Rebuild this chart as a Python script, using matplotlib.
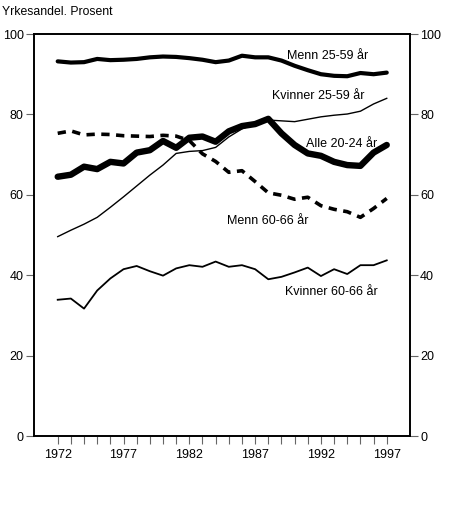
import matplotlib
matplotlib.use("Agg")
import matplotlib.pyplot as plt

plt.rcParams['font.family'] = ['Liberation Sans', 'DejaVu Sans']

years = list(range(1972, 1998))

menn_25_59 = [93.2, 92.9, 93.0, 93.8, 93.5, 93.6, 93.8, 94.2, 94.4, 94.3, 94.0, 93.6, 93.0, 93.4,
              94.6, 94.2, 94.2, 93.4, 92.1, 91.0, 90.0, 89.6, 89.5, 90.3, 90.0, 90.4]
kvinner_25_59 = [49.6, 51.2, 52.7, 54.4, 56.9, 59.5, 62.2, 64.9, 67.4, 70.3, 70.8, 71.0, 71.8, 74.4,
                 76.4, 77.6, 78.6, 78.4, 78.2, 78.8, 79.4, 79.8, 80.1, 80.8, 82.6, 84.0]
alle_20_24 = [64.5, 65.0, 67.0, 66.4, 68.2, 67.8, 70.5, 71.1, 73.4, 71.7, 74.2, 74.5, 73.2, 75.8,
              77.1, 77.6, 78.9, 75.3, 72.4, 70.3, 69.7, 68.2, 67.4, 67.2, 70.5, 72.4]
menn_60_66 = [75.3, 75.9, 74.9, 75.1, 75.0, 74.7, 74.6, 74.5, 74.8, 74.6, 73.5, 70.2, 68.3, 65.6,
              66.0, 63.3, 60.5, 59.9, 58.9, 59.4, 57.3, 56.4, 55.8, 54.4, 56.6, 59.1]
kvinner_60_66 = [33.9, 34.2, 31.7, 36.2, 39.2, 41.5, 42.3, 41.0, 39.9, 41.7, 42.5, 42.1, 43.4, 42.1,
                 42.5, 41.5, 39.0, 39.6, 40.7, 41.9, 39.8, 41.5, 40.3, 42.5, 42.5, 43.7]

labels = ["Menn 25-59 år", "Kvinner 25-59 år", "Alle 20-24 år", "Menn 60-66 år", "Kvinner 60-66 år"]
label_pos = [(1989.4, 94.6), (1988.3, 84.6), (1990.9, 72.6), (1984.9, 53.6), (1989.3, 35.8)]

fig = plt.figure(figsize=(4.5, 5.13), dpi=100)
ax = fig.add_axes([0.0756, 0.150, 0.835, 0.7837])

ax.plot(years, kvinner_60_66, color='black', lw=1.3, solid_joinstyle='round')
ax.plot(years, kvinner_25_59, color='black', lw=1.0, solid_joinstyle='round')
ax.plot(years, menn_60_66, color='black', lw=2.6, linestyle=(0, (2.3, 1.8)), dash_capstyle='butt')
ax.plot(years, menn_25_59, color='black', lw=3.0, solid_joinstyle='round', solid_capstyle='round')
ax.plot(years, alle_20_24, color='black', lw=4.6, solid_joinstyle='round', solid_capstyle='round')

for txt, (x, y) in zip(labels, label_pos):
    ax.text(x, y, txt, fontsize=9, ha='left', va='center')

ax.set_xlim(1970.2, 1998.75)
ax.set_ylim(0, 100)
ax.set_xticks(years, minor=True)
ax.set_xticks(range(1972, 1998, 5))
ax.set_yticks(range(0, 101, 20))
ax.tick_params(axis='both', which='both', direction='out', colors='#666666', labelcolor='black',
               labelsize=9, width=0.8, length=6)
ax.tick_params(axis='y', left=True, right=True, labelleft=True, labelright=True, pad=1.5)
ax.tick_params(axis='x', which='major', pad=3)
ax.tick_params(axis='x', which='minor', length=6)
for sp in ax.spines.values():
    sp.set_linewidth(1.4)

fig.text(0.005, 0.977, "Yrkesandel. Prosent", fontsize=8.8, ha='left', va='center')

fig.savefig("out.png", dpi=100)
